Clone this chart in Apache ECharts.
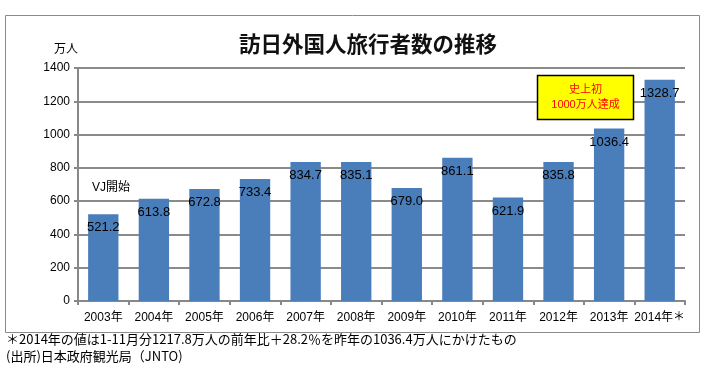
<!DOCTYPE html>
<html><head><meta charset="utf-8">
<script src="https://cdn.jsdelivr.net/npm/echarts@6/dist/echarts.min.js"></script>
<style>html,body{margin:0;padding:0;background:#fff}#c{width:705px;height:370px}</style>
</head><body><div id="c"></div>
<script>
var categories = ['2003年','2004年','2005年','2006年','2007年','2008年','2009年','2010年','2011年','2012年','2013年','2014年＊'];
var visitors = [521.2, 613.8, 672.8, 733.4, 834.7, 835.1, 679.0, 861.1, 621.9, 835.8, 1036.4, 1328.7];
var titleText = '訪日外国人旅行者数の推移';
var unitText = '万人';
var noteLines = ['＊2014年の値は1-11月分1217.8万人の前年比＋28.2％を昨年の1036.4万人にかけたもの', '(出所)日本政府観光局（JNTO)'];
var calloutLines = ['史上初', '1000万人達成'];
var startNote = 'VJ開始';

var FONT = "'Liberation Sans','Noto Sans CJK JP',sans-serif";
var chart = echarts.init(document.getElementById('c'), null, {renderer: 'canvas'});
chart.setOption({
  animation: false,
  backgroundColor: '#fff',
  title: {
    text: titleText, left: 234, top: 28, itemGap: 0,
    textStyle: {fontFamily: "'Noto Sans CJK JP',sans-serif", fontSize: 21.5, fontWeight: 'bold', color: '#111'}
  },
  grid: {left: 78, right: 20, top: 68, bottom: 69},
  xAxis: {
    type: 'category', data: categories,
    axisLine: {lineStyle: {color: '#888', width: 2}},
    axisTick: {show: true, length: 4, lineStyle: {color: '#888', width: 2}},
    axisLabel: {color: '#000', fontSize: 12, fontFamily: FONT, margin: 11, interval: 0}
  },
  yAxis: {
    type: 'value', min: 0, max: 1400, interval: 200,
    name: unitText, nameLocation: 'end', nameGap: 12,
    nameTextStyle: {color: '#000', fontSize: 12, fontFamily: FONT, align: 'right'},
    axisLine: {show: true, lineStyle: {color: '#888', width: 2}},
    axisTick: {show: true, length: 4, lineStyle: {color: '#888', width: 2}},
    axisLabel: {color: '#000', fontSize: 12, fontFamily: FONT, margin: 8,
                formatter: function (v) { return String(v); }},
    splitLine: {lineStyle: {color: '#8a8a8a', width: 2}}
  },
  series: [{
    type: 'bar', data: visitors, barWidth: '60%',
    itemStyle: {color: '#4A7EBB'},
    label: {
      show: true, position: 'insideTop', distance: 7, color: '#000',
      fontSize: 13, fontFamily: FONT,
      formatter: function (p) { return p.value.toFixed(1); }
    }
  }],
  graphic: [
    {type: 'rect', shape: {x: 5.5, y: 15.5, width: 694, height: 317},
     style: {fill: null, stroke: '#8a8a8a', lineWidth: 1}, z: -1},
    {type: 'text', left: 92, top: 182,
     style: {text: startNote, fontSize: 12, fontFamily: FONT, fill: '#000'}},
    {type: 'rect', shape: {x: 537.5, y: 75.5, width: 96, height: 44},
     style: {fill: '#FFFF00', stroke: '#000', lineWidth: 1.5}, z: 10},
    {type: 'text', x: 585.5, y: 97.5, z: 11,
     style: {text: calloutLines.join('\n'), fontSize: 11, lineHeight: 15, fontFamily: FONT, fill: '#FF0000', align: 'center', verticalAlign: 'middle'}},
    {type: 'text', left: 6, top: 331,
     style: {text: noteLines.join('\n'), fontSize: 13, lineHeight: 17, fontFamily: "'Noto Sans CJK JP',sans-serif", fill: '#000'}}
  ]
});
</script></body></html>
